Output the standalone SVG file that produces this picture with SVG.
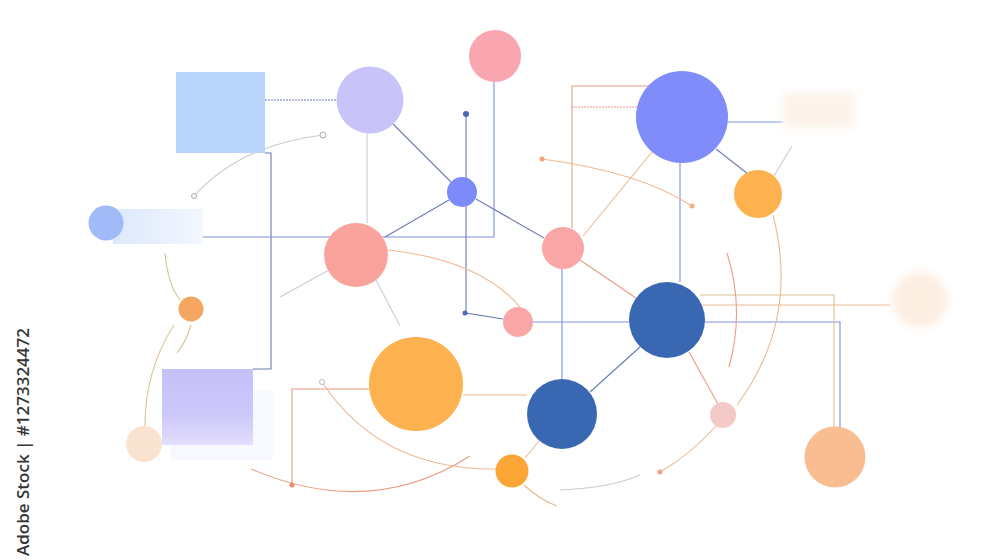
<svg xmlns="http://www.w3.org/2000/svg" width="1000" height="560" viewBox="0 0 1000 560">
<style>
.c{fill:none;stroke-width:1.1}
.b{stroke:#7f8fe0}
.db{stroke:#6b7bb5}
.g{stroke:#c8ccd4}
.o{stroke:#eeb890}
.r{stroke:#ec9a86}
.y{stroke:#d8c68c}
.wm{font-family:"Open Sans","Liberation Sans",sans-serif;font-size:17px;font-weight:600;fill:#363636}
</style>
<defs>
<linearGradient id="gb" x1="0" y1="0" x2="1" y2="0"><stop offset="0" stop-color="#dce8fd"/><stop offset="1" stop-color="#f3f7fe"/></linearGradient>
<linearGradient id="gp" x1="0" y1="0" x2="0" y2="1"><stop offset="0" stop-color="#c6c0f9"/><stop offset="0.6" stop-color="#cdc8fa"/><stop offset="1" stop-color="#e2defc"/></linearGradient>
<filter id="blur" x="-50%" y="-50%" width="200%" height="200%"><feGaussianBlur stdDeviation="4"/></filter>
</defs>
<rect width="1000" height="560" fill="#ffffff"/>

<g id="connectors">
<path class="c db" d="M265,100 H337" stroke-dasharray="2 1"/>
<path class="c db" d="M265,153 H271 V369 H253"/>
<path class="c b" d="M201,237 H494 V82"/>
<path class="c g" d="M194,196 Q240,145 323,135"/>
<circle cx="194" cy="196" r="2.5" fill="#fff" stroke="#aab" stroke-width="1"/>
<circle cx="323" cy="135" r="3" fill="#fff" stroke="#aab" stroke-width="1"/>
<path class="c g" d="M367,133 V223"/>
<path class="c db" d="M393,124 L451,182"/>
<path class="c db" d="M385,237 L449,200"/>
<path class="c db" d="M476,199 L544,238"/>
<path class="c db" d="M466,114 V313 L503,319"/>
<circle cx="466" cy="114" r="3" fill="#4a68b8"/>
<circle cx="465" cy="313" r="2.5" fill="#4a68b8"/>
<path class="c b" d="M533,322 H629"/>
<path class="c b" d="M705,322 H840 V427"/>
<path class="c y" d="M700,295 H834 V427"/>
<path class="c o" d="M703,305 H890"/>
<path class="c b" d="M562,269 V379"/>
<path class="c db" d="M590,392 L640,347"/>
<path class="c o" d="M540,440 L525,458"/>
<path class="c o" d="M463,395 H527"/>
<path class="c g" d="M376,280 L400,326"/>
<path class="c g" d="M280,297 L329,270"/>
<path class="c o" d="M388,250 Q480,260 520,307"/>
<path class="c o" d="M583,236 L652,152"/>
<path class="c r" d="M580,260 L636,298"/>
<path class="c r" d="M572,228 V86 H650"/>
<path class="c r" d="M572,107 H640" stroke-dasharray="2 1"/>
<path class="c b" d="M728,122 H783"/>
<path class="c db" d="M716,149 L748,174"/>
<path class="c g" d="M774,176 L792,146"/>
<path class="c b" d="M680,163 V282"/>
<path class="c o" d="M542,159 Q640,172 692,206"/>
<circle cx="542" cy="159" r="2.5" fill="#f4a080"/>
<circle cx="692" cy="206" r="2.5" fill="#f4b080"/>
<path class="c o" d="M773,215 Q800,320 737,405"/>
<path class="c o" d="M716,426 Q690,455 660,472"/>
<circle cx="660" cy="472" r="2.5" fill="#f4a080"/>
<path class="c r" d="M727,253 Q745,310 729,367"/>
<path class="c r" d="M689,352 L718,404"/>
<path class="c r" d="M369,389 H292 V485"/>
<circle cx="292" cy="485" r="2.5" fill="#ec8a70"/>
<path class="c r" d="M251,469 Q370,520 470,456"/>
<path class="c o" d="M322,382 Q380,470 496,469"/>
<circle cx="322" cy="382" r="2.5" fill="#fff" stroke="#bbb" stroke-width="1"/>
<path class="c o" d="M524,485 Q540,500 557,506"/>
<path class="c g" d="M560,490 Q610,488 640,475"/>
<path class="c y" d="M165,253 Q168,285 180,300"/>
<path class="c y" d="M174,325 Q145,370 145,426"/>
<path class="c y" d="M191,325 Q186,342 177,353"/>
</g>

<g id="n-sq-blue"><rect x="176" y="72" width="89" height="81" fill="#b9d5fc"/></g>
<g id="n-lavender"><circle cx="370" cy="100" r="33.5" fill="#c8c3f9"/></g>
<g id="n-pink-top"><circle cx="495" cy="56" r="26" fill="#f9a6b0"/></g>
<g id="n-blue-small"><circle cx="462" cy="192" r="15" fill="#7b8bf9"/></g>
<g id="n-periwinkle"><circle cx="682" cy="117" r="46" fill="#7f8cfa"/></g>
<g id="n-orange-r"><circle cx="758" cy="194" r="24" fill="#fdb24f"/></g>
<g id="n-faded-rect"><rect x="783" y="93" width="72" height="35" fill="#fdf3ea" filter="url(#blur)"/></g>
<g id="n-lightblue"><rect x="113" y="209" width="90" height="35" fill="url(#gb)"/><circle cx="106" cy="223" r="17.5" fill="#a1baf8"/></g>
<g id="n-salmon"><circle cx="356" cy="255" r="32" fill="#f9a39c"/></g>
<g id="n-pink-mid"><circle cx="563" cy="248" r="21" fill="#f9a6a6"/></g>
<g id="n-orange-small-l"><circle cx="191" cy="309" r="12.5" fill="#f5a762"/></g>
<g id="n-pink-small"><circle cx="518" cy="322" r="15" fill="#f9a6a6"/></g>
<g id="n-darkblue-1"><circle cx="667" cy="320" r="38" fill="#3a67b1"/></g>
<g id="n-faded-circle"><circle cx="920" cy="300" r="28" fill="#fdeee2" filter="url(#blur)"/></g>
<g id="n-orange-big"><circle cx="416" cy="384" r="47" fill="#fdb24f"/></g>
<g id="n-sq-purple"><rect x="170" y="390" width="103" height="70" fill="#f8f9fe"/><rect x="162" y="369" width="91" height="76" fill="url(#gp)"/></g>
<g id="n-peach-faded"><circle cx="144" cy="444" r="18" fill="#f9e4d2"/></g>
<g id="n-darkblue-2"><circle cx="562" cy="414" r="35" fill="#3a67b1"/></g>
<g id="n-orange-bottom"><circle cx="512" cy="471" r="16.5" fill="#fca638"/></g>
<g id="n-pink-light"><circle cx="723" cy="415" r="13" fill="#f4cac6"/></g>
<g id="n-peach"><circle cx="835" cy="457" r="30.5" fill="#f9bd92"/></g>

<text class="wm" transform="translate(29,556) rotate(-90)">Adobe Stock | #1273324472</text>
</svg>
